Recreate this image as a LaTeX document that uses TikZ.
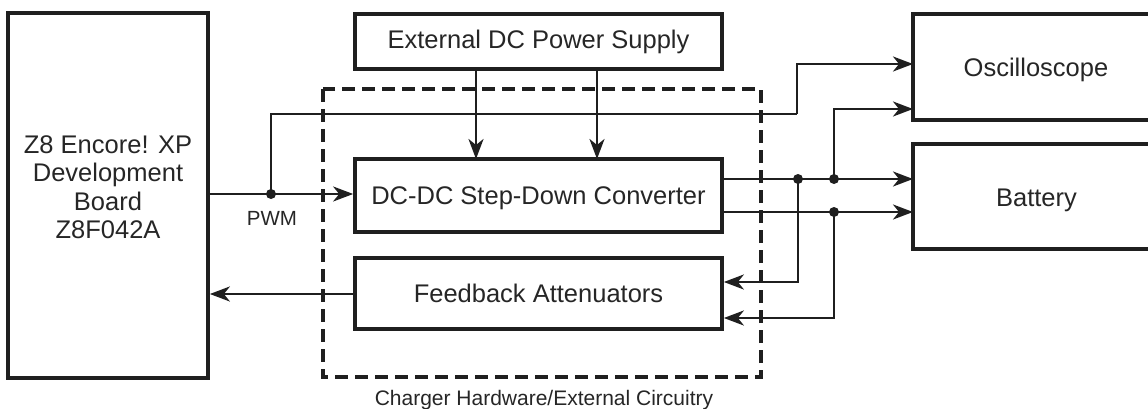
\documentclass[tikz,border=0pt]{standalone}
\usepackage{fontspec}
\setmainfont{Liberation Sans}
\usetikzlibrary{arrows.meta}
\begin{document}
\begin{tikzpicture}[x=1pt,y=-1pt,
  blk/.style={draw=black!88, line width=3.7pt, inner sep=0pt},
  wire/.style={draw=black!88, line width=2.6pt},
  arr/.style={wire, -{Stealth[length=20pt,width=15pt,inset=6pt]}},
  dot/.style={circle, fill=black!88, inner sep=0pt, minimum size=10pt},
  lbl/.style={font=\fontsize{25.5}{28.5}\selectfont, align=center, text=black!85},
  small/.style={font=\fontsize{20.5}{24}\selectfont, text=black!85}]
\useasboundingbox (0,0) rectangle (1148,409);
% boxes
\node[blk, minimum width=200pt, minimum height=365pt] (z8) at (108,195.5) {};
\node[lbl] (z8t) at (108,187) {Z8 Encore! XP\\Development\\Board\\Z8F042A};
\node[blk, minimum width=367pt, minimum height=55pt] (ps) at (538.5,41.5) {};
\node[lbl] (pst) at (ps.center) {External DC Power Supply};
\node[blk, minimum width=367pt, minimum height=73pt] (dc) at (538.5,195.5) {};
\node[lbl, anchor=base] (dct) at (538.5,204) {DC-DC Step-Down Converter};
\node[blk, minimum width=367pt, minimum height=71pt] (fb) at (538.5,293.5) {};
\node[lbl] (fbt) at (fb.center) {Feedback Attenuators};
\node[blk, minimum width=250pt, minimum height=106pt] (osc) at (1038,67) {};
\node[lbl, anchor=base] (osct) at (1036,77) {Oscilloscope};
\node[blk, minimum width=250pt, minimum height=105pt] (bat) at (1038,196.5) {};
\node[lbl, anchor=base] (batt) at (1036.5,206) {Battery};
% dashed region
\draw[draw=black!88, line width=3.6pt, dash pattern=on 13pt off 7pt] (323,89) rectangle (761,377);
\node[small, font=\fontsize{21}{24}\selectfont, anchor=base] (chg) at (544,405) {Charger Hardware/External Circuitry};
% coordinates
\coordinate (pwmj) at (271,194);
\coordinate (pu) at (271,114);
\coordinate (pr) at (797,114);
\coordinate (pt) at (797,64);
\coordinate (o1) at (913,64);
\coordinate (o2) at (913,109);
\coordinate (j1) at (798,179);
\coordinate (j2) at (834,179);
\coordinate (j3) at (834,212);
\coordinate (j2u) at (834,109);
\coordinate (b1) at (913,179);
\coordinate (b2) at (913,212);
\coordinate (f1) at (798,282);
\coordinate (f2) at (834,318);
% power supply arrows
\draw[arr] (476,69) -- (476,159);
\draw[arr] (597,69) -- (597,159);
% PWM
\draw[arr] (z8.east |- pwmj) -- (dc.west |- pwmj);
\node[small, anchor=base] (pwm) at (272,225) {PWM};
\draw[wire] (pwmj) -- (pu) -- (pr);
\draw[arr] (pr) -- (pt) -- (o1);
% outputs
\draw[arr] (dc.east |- j1) -- (b1);
\draw[arr] (dc.east |- j3) -- (b2);
\draw[arr] (j2) -- (j2u) -- (o2);
\draw[arr] (j1) -- (f1) -- (fb.east |- f1);
\draw[arr] (j3) -- (f2) -- (fb.east |- f2);
% feedback to board
\draw[arr] (fb.west |- 0,294) -- (z8.east |- 0,294);
% dots
\node[dot] at (pwmj) {};
\node[dot] at (j1) {};
\node[dot] at (j2) {};
\node[dot] at (j3) {};
\end{tikzpicture}
\end{document}
